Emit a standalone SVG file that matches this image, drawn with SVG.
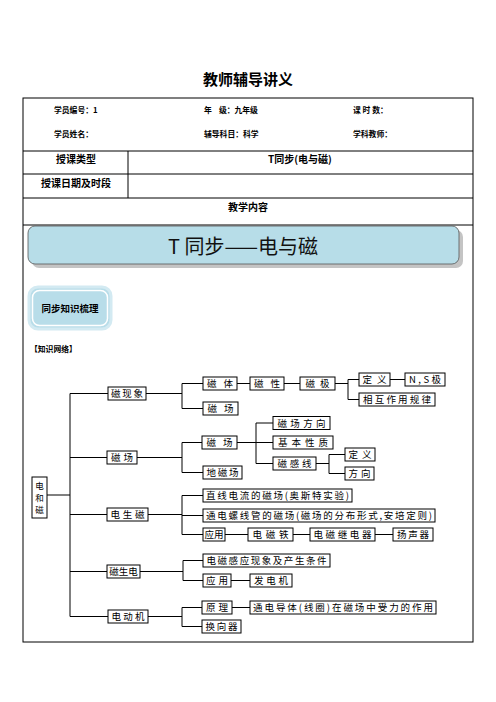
<svg xmlns="http://www.w3.org/2000/svg" width="496" height="702" viewBox="0 0 496 702">
<style>
.hb{font-family:"Noto Sans CJK SC","Noto Sans",sans-serif;font-weight:bold;fill:#000}
.t{font-family:"Noto Sans CJK SC","Noto Sans",sans-serif;font-size:9.5px;fill:#000;text-anchor:middle}
.b{fill:#fff;stroke:#000;stroke-width:1}
.ln{stroke:#000;stroke-width:1;fill:none}
.tb{fill:none;stroke:#000;stroke-width:1}
</style>
<rect width="496" height="702" fill="#fff"/>
<text class="hb" x="248" y="85" font-size="15" text-anchor="middle">教师辅导讲义</text>
<g id="table">
<rect class="tb" x="23" y="98" width="450" height="544"/>
<line class="tb" x1="23" y1="151" x2="473" y2="151"/>
<line class="tb" x1="23" y1="174" x2="473" y2="174"/>
<line class="tb" x1="23" y1="198" x2="473" y2="198"/>
<line class="tb" x1="128" y1="151" x2="128" y2="198"/>
<line class="tb" x1="23" y1="225" x2="473" y2="225"/>
<text class="hb" font-size="7.8" x="54" y="113">学员编号：1</text>
<text class="hb" font-size="7.8" x="204" y="113" xml:space="preserve">年    级：九年级</text>
<text class="hb" font-size="7.8" x="353" y="113" xml:space="preserve">课 时 数：</text>
<text class="hb" font-size="7.8" x="54" y="137">学员姓名：</text>
<text class="hb" font-size="7.8" x="204" y="137">辅导科目：科学</text>
<text class="hb" font-size="7.8" x="353" y="137">学科教师：</text>
<text class="hb" font-size="10" x="76" y="163" text-anchor="middle">授课类型</text>
<text class="hb" font-size="10" x="300" y="163" text-anchor="middle">T同步(电与磁)</text>
<text class="hb" font-size="10" x="76" y="187" text-anchor="middle">授课日期及时段</text>
<text class="hb" font-size="10" x="248" y="211" text-anchor="middle">教学内容</text>
</g>
<g id="banner">
<rect x="32" y="230" width="431" height="38" rx="7" fill="#c4c4c4"/>
<rect x="28" y="226" width="431" height="38" rx="7" fill="#b7dde8" stroke="#555" stroke-width="0.8"/>
<text x="243" y="254" font-family="'Noto Sans CJK SC','Noto Sans',sans-serif" font-size="20" text-anchor="middle" fill="#111">T 同步——电与磁</text>
</g>
<g id="section">
<rect x="29" y="287" width="82" height="42" rx="9" fill="#b8dde9" stroke="#d3eaf2" stroke-width="3"/>
<rect x="32.5" y="290.5" width="75" height="35" rx="7" fill="none" stroke="#fff" stroke-width="1.5"/>
<text class="hb" font-size="9.5" x="70" y="312" text-anchor="middle">同步知识梳理</text>
<text class="hb" font-size="7.8" x="30" y="352">【知识网络】</text>
</g>
<g id="connectors">
<path class="ln" d="M47 495H70M70 393.5V616.5M70 393.5H108M70 457.5H107M70 514.5H107M70 571.5H107M70 616.5H108"/>
<path class="ln" d="M146 393.5H182M182 383.5V408.5M182 383.5H203M182 408.5H203M237 383.5H250M284 383.5H300M335 383.5H348M348 379.5V399.5M348 379.5H359M348 399.5H359M390 379.5H405"/>
<path class="ln" d="M137 457.5H182M182 442.5V472.5M182 442.5H202M182 472.5H203M237 442.5H256M256 423V463.5M256 423H273M256 442.5H273M256 463.5H273M316 463.5H329M329 454.5V473.5M329 454.5H345M329 473.5H345"/>
<path class="ln" d="M148 514.5H182M182 495.5V534.5M182 495.5H203M182 515.5H203M182 534.5H203M225 534.5H248M293 534.5H310M375 534.5H393"/>
<path class="ln" d="M140 571.5H183M183 560.5V580.5M183 560.5H203M183 580.5H203M231 580.5H250"/>
<path class="ln" d="M148 616.5H182M182 607.5V626.5M182 607.5H202M182 626.5H202M232 607.5H250"/>
</g>
<g id="root"><rect class="b" x="32" y="477" width="15" height="41"/>
<text class="t" style="font-size:8.5px" x="39.5" y="489">电</text><text class="t" style="font-size:8.5px" x="39.5" y="501">和</text><text class="t" style="font-size:8.5px" x="39.5" y="513">磁</text></g>
<g id="n-cixianxiang"><rect class="b" x="108" y="387" width="38" height="13"/><text class="t" x="127" y="397" textLength="32" lengthAdjust="spacing">磁现象</text></g>
<g id="n-cichang1"><rect class="b" x="107" y="451" width="30" height="13"/><text class="t" x="122" y="461" textLength="22" lengthAdjust="spacing">磁场</text></g>
<g id="n-dianshengci"><rect class="b" x="107" y="508" width="41" height="13"/><text class="t" x="127.5" y="518" textLength="34" lengthAdjust="spacing">电生磁</text></g>
<g id="n-cishengdian"><rect class="b" x="107" y="565" width="33" height="13"/><text class="t" x="123.5" y="575">磁生电</text></g>
<g id="n-diandongji"><rect class="b" x="108" y="610" width="40" height="13"/><text class="t" x="128" y="620" textLength="33" lengthAdjust="spacing">电动机</text></g>
<g id="n-citi"><rect class="b" x="203" y="377" width="34" height="13"/><text class="t" x="220" y="387" textLength="26" lengthAdjust="spacing">磁体</text></g>
<g id="n-cichang2"><rect class="b" x="203" y="402" width="35" height="13"/><text class="t" x="220.5" y="412" textLength="26" lengthAdjust="spacing">磁场</text></g>
<g id="n-cixing"><rect class="b" x="250" y="377" width="34" height="13"/><text class="t" x="267" y="387" textLength="26" lengthAdjust="spacing">磁性</text></g>
<g id="n-ciji"><rect class="b" x="300" y="377" width="35" height="13"/><text class="t" x="317.5" y="387" textLength="24" lengthAdjust="spacing">磁极</text></g>
<g id="n-dingyi1"><rect class="b" x="359" y="373" width="31" height="13"/><text class="t" x="374.5" y="383" textLength="24" lengthAdjust="spacing">定义</text></g>
<g id="n-nsji"><rect class="b" x="405" y="373" width="40" height="13"/><text class="t" x="425" y="383" textLength="32" lengthAdjust="spacing">N,S极</text></g>
<g id="n-xianghu"><rect class="b" x="359" y="393" width="76" height="13"/><text class="t" x="397" y="403" textLength="68" lengthAdjust="spacing">相互作用规律</text></g>
<g id="n-cichang3"><rect class="b" x="202" y="436" width="35" height="13"/><text class="t" x="219.5" y="446" textLength="26" lengthAdjust="spacing">磁场</text></g>
<g id="n-dicichang"><rect class="b" x="203" y="466" width="39" height="13"/><text class="t" x="222.5" y="476" textLength="32" lengthAdjust="spacing">地磁场</text></g>
<g id="n-cichangfangxiang"><rect class="b" x="273" y="416.5" width="57" height="13"/><text class="t" x="301.5" y="426.5" textLength="48" lengthAdjust="spacing">磁场方向</text></g>
<g id="n-jibenxingzhi"><rect class="b" x="273" y="436" width="60" height="13"/><text class="t" x="303" y="446" textLength="50" lengthAdjust="spacing">基本性质</text></g>
<g id="n-ciganxian"><rect class="b" x="273" y="457" width="43" height="13"/><text class="t" x="294.5" y="467" textLength="34" lengthAdjust="spacing">磁感线</text></g>
<g id="n-dingyi2"><rect class="b" x="345" y="448" width="30" height="13"/><text class="t" x="360" y="458" textLength="23" lengthAdjust="spacing">定义</text></g>
<g id="n-fangxiang"><rect class="b" x="345" y="467" width="29" height="13"/><text class="t" x="359.5" y="477" textLength="22" lengthAdjust="spacing">方向</text></g>
<g id="n-zhixian"><rect class="b" x="203" y="489" width="149" height="13"/><text class="t" x="277.5" y="499" textLength="143" lengthAdjust="spacing">直线电流的磁场(奥斯特实验)</text></g>
<g id="n-luoxianguan"><rect class="b" x="203" y="509" width="232" height="13"/><text class="t" x="319" y="519" textLength="226" lengthAdjust="spacing">通电螺线管的磁场(磁场的分布形式,安培定则)</text></g>
<g id="n-yingyong1"><rect class="b" x="203" y="528" width="22" height="13"/><text class="t" x="214" y="538">应用</text></g>
<g id="n-diancitie"><rect class="b" x="248" y="528" width="45" height="13"/><text class="t" x="270.5" y="538" textLength="36" lengthAdjust="spacing">电磁铁</text></g>
<g id="n-jidianqi"><rect class="b" x="310" y="528" width="65" height="13"/><text class="t" x="342.5" y="538" textLength="58" lengthAdjust="spacing">电磁继电器</text></g>
<g id="n-yangshengqi"><rect class="b" x="393" y="528" width="40" height="13"/><text class="t" x="413" y="538" textLength="32" lengthAdjust="spacing">扬声器</text></g>
<g id="n-ganying"><rect class="b" x="203" y="554" width="127" height="13"/><text class="t" x="266.5" y="564" textLength="120" lengthAdjust="spacing">电磁感应现象及产生条件</text></g>
<g id="n-yingyong2"><rect class="b" x="203" y="574" width="28" height="13"/><text class="t" x="217" y="584" textLength="22" lengthAdjust="spacing">应用</text></g>
<g id="n-fadianji"><rect class="b" x="250" y="574" width="42" height="13"/><text class="t" x="271" y="584" textLength="34" lengthAdjust="spacing">发电机</text></g>
<g id="n-yuanli"><rect class="b" x="202" y="601" width="30" height="13"/><text class="t" x="217" y="611" textLength="22" lengthAdjust="spacing">原理</text></g>
<g id="n-daoti"><rect class="b" x="250" y="601" width="186" height="13"/><text class="t" x="343" y="611" textLength="180" lengthAdjust="spacing">通电导体(线圈)在磁场中受力的作用</text></g>
<g id="n-huanxiangqi"><rect class="b" x="202" y="620" width="39" height="13"/><text class="t" x="221.5" y="630" textLength="32" lengthAdjust="spacing">换向器</text></g>
</svg>
